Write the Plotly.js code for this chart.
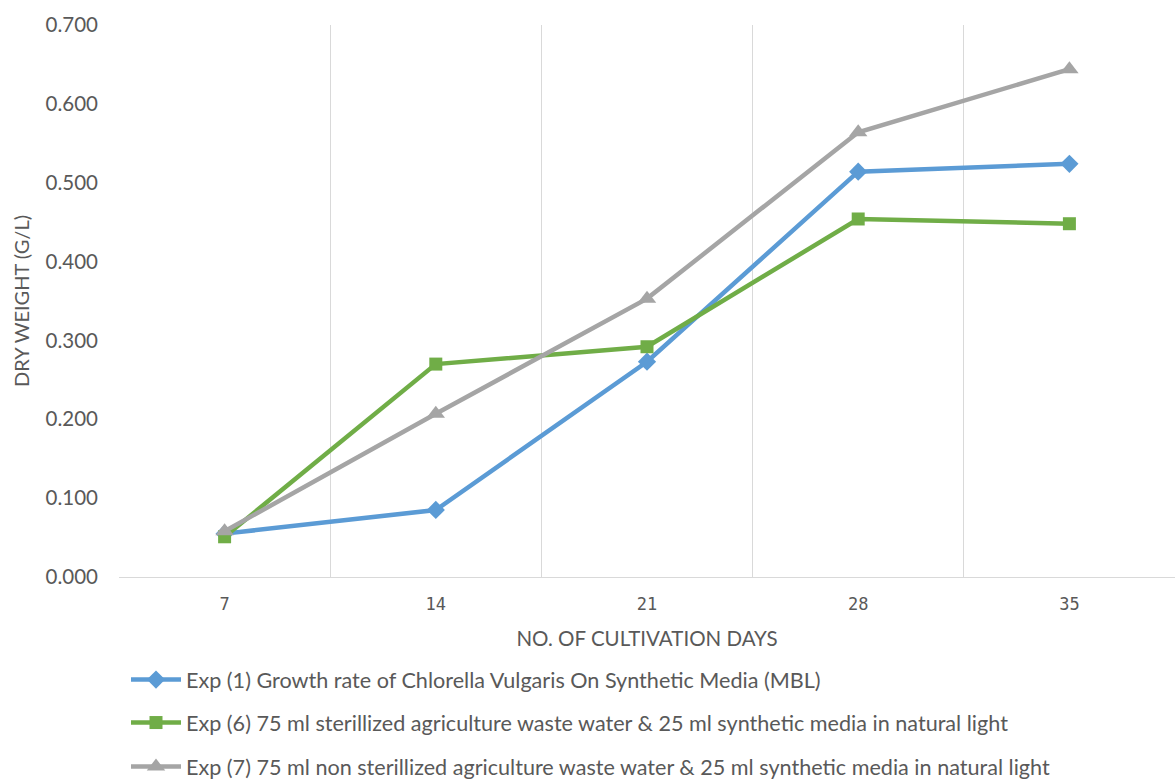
<!DOCTYPE html>
<html>
<head>
<meta charset="utf-8">
<script src="https://cdn.plot.ly/plotly-3.0.1.min.js"></script>
<style>html,body{margin:0;padding:0;background:#fff;}#chart{width:1175px;height:781px;}</style>
</head>
<body>
<div id="chart"></div>
<script>
const days = ['7', '14', '21', '28', '35'];
const exp1 = [0.055, 0.085, 0.273, 0.514, 0.524];
const exp6 = [0.051, 0.270, 0.292, 0.454, 0.448];
const exp7 = [0.058, 0.207, 0.353, 0.564, 0.644];
const names = [
  'Exp (1) Growth rate of Chlorella Vulgaris On Synthetic Media (MBL)',
  'Exp (6) 75 ml sterillized agriculture waste water &amp; 25 ml synthetic media in natural light',
  'Exp (7) 75 ml non sterillized agriculture waste water &amp; 25 ml synthetic media in natural light'
];
const yTicks = [0, 0.1, 0.2, 0.3, 0.4, 0.5, 0.6, 0.7];

const txt = '#595959';
const traces = [
  {x: days, y: exp1, name: names[0], type: 'scatter', mode: 'lines+markers',
   line: {color: '#5B9BD5', width: 4.5}, marker: {symbol: 'diamond', size: 14, color: '#5B9BD5'}, legend: 'legend'},
  {x: days, y: exp6, name: names[1], type: 'scatter', mode: 'lines+markers',
   line: {color: '#70AD47', width: 4.5}, marker: {symbol: 'square', size: 13, color: '#70AD47'}, legend: 'legend2'},
  {x: days, y: exp7, name: names[2], type: 'scatter', mode: 'lines+markers',
   line: {color: '#A5A5A5', width: 4.5}, marker: {symbol: 'triangle-up', size: 16, color: '#A5A5A5'}, legend: 'legend3'}
];

function leg(yPix) {
  return {x: (126 - 119) / 1056, xanchor: 'left', y: (577 - yPix) / 552, yanchor: 'middle',
    font: {family: 'Lato, sans-serif', size: 21.6, color: txt}, bgcolor: 'rgba(0,0,0,0)',
    itemwidth: 50, borderwidth: 0, tracegroupgap: 0};
}

const layout = {
  width: 1175, height: 781,
  margin: {l: 119, r: 0, t: 25, b: 204, autoexpand: false},
  paper_bgcolor: '#fff', plot_bgcolor: '#fff',
  showlegend: true,
  xaxis: {
    type: 'category', range: [-0.5, 4.5], tickson: 'boundaries',
    showgrid: true, gridcolor: '#D9D9D9', gridwidth: 1,
    showline: true, linecolor: '#D9D9D9', linewidth: 1,
    ticks: '', zeroline: false, automargin: false,
    ticklabelstandoff: 12,
    tickfont: {family: '"DejaVu Sans Mono", monospace', size: 17, color: txt},
    title: {text: 'NO. OF CULTIVATION DAYS', font: {family: 'Lato, sans-serif', size: 20.5, color: txt}, standoff: 18}
  },
  yaxis: {
    range: [0, 0.7], tickvals: yTicks, tickformat: '.3f',
    showgrid: false, zeroline: false, showline: false, ticks: '', automargin: false,
    ticklabelstandoff: 20,
    tickfont: {family: 'Lato, sans-serif', size: 20.5, color: txt},
    title: {text: 'DRY WEIGHT (G/L)', font: {family: 'Lato, sans-serif', size: 20, color: txt}, standoff: 10}
  },
  legend: leg(680),
  legend2: leg(723),
  legend3: leg(767)
};

Plotly.newPlot('chart', traces, layout, {displayModeBar: false, responsive: false});
</script>
</body>
</html>
